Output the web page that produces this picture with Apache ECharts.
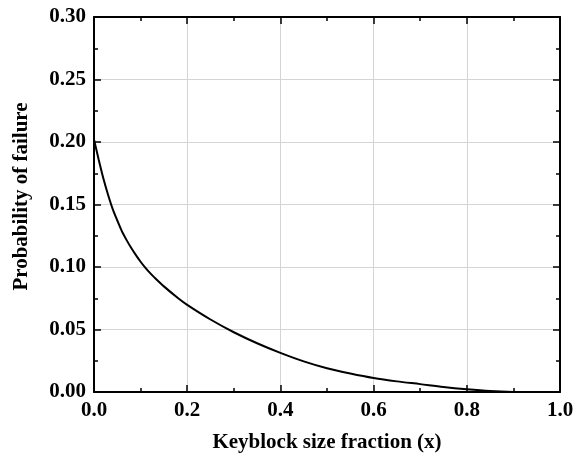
<!DOCTYPE html>
<html>
<head>
<meta charset="utf-8">
<script src="https://cdn.jsdelivr.net/npm/echarts@6/dist/echarts.min.js"></script>
<style>
  html, body { margin: 0; padding: 0; background: #fff; }
  #chart { width: 583px; height: 459px; }
</style>
</head>
<body>
<div id="chart"></div>
<script>
// values
var xFrac = [0, 0.01, 0.02, 0.03, 0.04, 0.05, 0.06, 0.07, 0.08, 0.09, 0.10, 0.11, 0.12, 0.13, 0.15, 0.18, 0.20, 0.25, 0.30, 0.35,
    0.40, 0.45, 0.50, 0.55, 0.60, 0.65, 0.70, 0.75, 0.80, 0.85, 0.90, 0.94];
var pFail = [0.202, 0.186, 0.171, 0.158, 0.1465, 0.1372, 0.1285, 0.1215, 0.1152, 0.1095, 0.1042, 0.0995, 0.0953, 0.0915, 0.0845, 0.0752, 0.0697, 0.058, 0.0478, 0.039,
    0.0313, 0.0245, 0.019, 0.0148, 0.0112, 0.0085, 0.0063, 0.004, 0.0022, 0.0008, 0.0001, 0.0];

var FONT = 'Liberation Serif';

var pts = [];
for (var i = 0; i < xFrac.length; i++) {
    pts.push([xFrac[i], pFail[i]]);
}

var dom = document.getElementById('chart');
var myChart = echarts.init(dom);

function frameAxis(isX, main) {
    var ax = {
        type: 'value',
        min: 0,
        max: isX ? 1.0 : 0.30,
        interval: isX ? 0.2 : 0.05,
        axisLine: {show: true, onZero: false, lineStyle: {color: '#000', width: 2}},
        axisTick: {show: true, inside: true, length: 7, lineStyle: {color: '#000', width: 1.5}},
        minorTick: {show: true, splitNumber: 2, length: 4, lineStyle: {color: '#000', width: 1.5}},
        splitLine: {show: main, lineStyle: {color: '#d4d4d4', width: 1}},
        axisLabel: {show: main, color: '#000', fontFamily: FONT, fontWeight: 'bold', fontSize: 21,
            margin: 8,
            formatter: function (v) { return isX ? v.toFixed(1) : v.toFixed(2); }}
    };
    if (!main) {
        ax.position = isX ? 'top' : 'right';
    }
    return ax;
}

var xMain = frameAxis(true, true);
xMain.name = 'Keyblock size fraction (x)';
xMain.nameLocation = 'middle';
xMain.nameGap = 40;
xMain.nameTextStyle = {color: '#000', fontFamily: FONT, fontWeight: 'bold', fontSize: 21};

var yMain = frameAxis(false, true);
yMain.name = 'Probability of failure';
yMain.nameLocation = 'middle';
yMain.nameGap = 62;
yMain.nameTextStyle = {color: '#000', fontFamily: FONT, fontWeight: 'bold', fontSize: 21, padding: [0, 0, 0, 16]};

var option = {
    animation: false,
    backgroundColor: '#fff',
    grid: {
        left: 94,
        right: 23,
        top: 17,
        bottom: 67
    },
    xAxis: [xMain, frameAxis(true, false)],
    yAxis: [yMain, frameAxis(false, false)],
    series: [{
        type: 'line',
        data: pts,
        showSymbol: false,
        smooth: 0.3,
        clip: true,
        lineStyle: {color: '#000', width: 2}
    }]
};

myChart.setOption(option);
</script>
</body>
</html>
